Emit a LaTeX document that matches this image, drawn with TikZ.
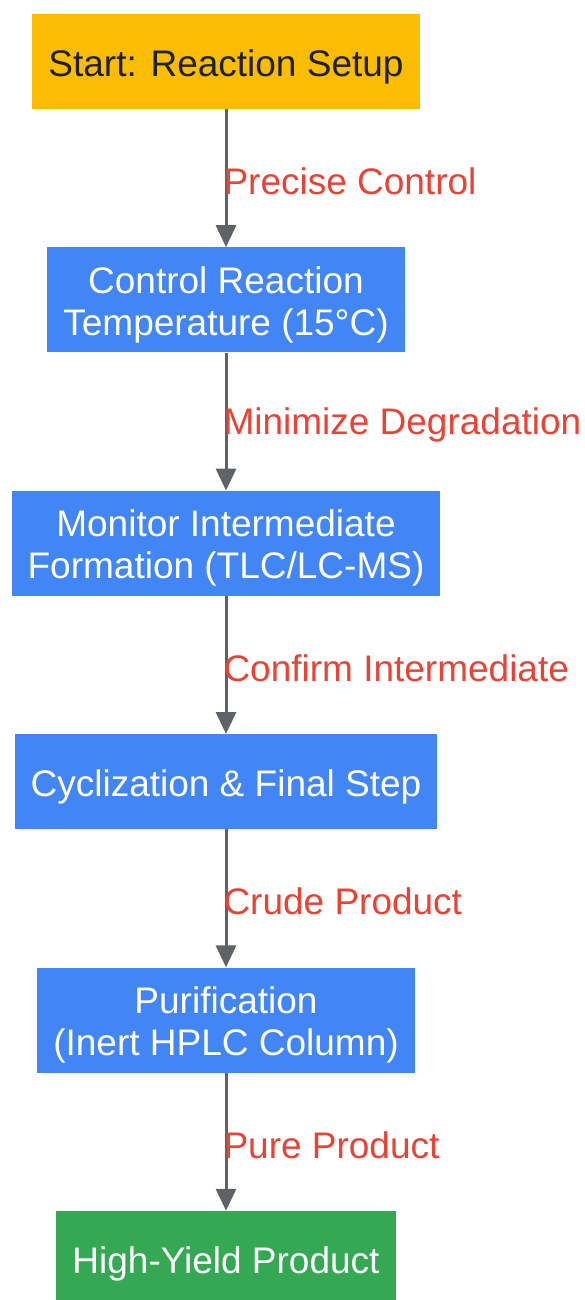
\documentclass[tikz,border=0pt]{standalone}
\usepackage{fontspec}
\setmainfont{Liberation Sans}
\usetikzlibrary{positioning,arrows.meta}

\definecolor{startcol}{HTML}{FBBC04}
\definecolor{stepcol}{HTML}{4285F4}
\definecolor{endcol}{HTML}{34A853}
\definecolor{arrowcol}{HTML}{5F6368}
\definecolor{labelcol}{HTML}{EA4335}
\definecolor{darktext}{HTML}{202124}

% extra room above the first line, so text sits a bit lower in the box
\newcommand{\liftline}{\rule{0pt}{1em}}

\begin{document}
\begin{tikzpicture}[
    box/.style={inner xsep=16pt, inner ysep=4pt, align=center, fill=stepcol, text=white,
                font=\fontsize{37}{42}\selectfont, minimum height=95pt},
    twoline/.style={minimum height=105pt},
    flow/.style={draw=arrowcol, line width=3pt, -{Triangle[length=22pt,width=20pt]}},
    lbl/.style={right, inner sep=0pt, xshift=-4pt, yshift=-3pt, text=labelcol,
                font=\fontsize{37}{42}\selectfont}
]
    % Page size
    \useasboundingbox (0,0) rectangle (585pt,-1300pt);

    % Steps
    \node[box, fill=startcol, text=darktext] (start) at (226pt,-61.5pt) {\liftline Start: Reaction Setup};
    \node[box, twoline, below=138pt of start] (temp) {\liftline Control Reaction\\Temperature (15°C)};
    \node[box, twoline, below=138pt of temp] (monitor) {\liftline Monitor Intermediate\\Formation (TLC/LC-MS)};
    \node[box, below=138pt of monitor] (cycl) {\liftline Cyclization \& Final Step};
    \node[box, twoline, below=138pt of cycl] (purif) {\liftline Purification\\(Inert HPLC Column)};
    \node[box, fill=endcol, below=138pt of purif] (product) {\liftline High-Yield Product};

    % Arrows with labels
    \draw[flow] (start) -- node[lbl] {Precise Control} (temp);
    \draw[flow] (temp) -- node[lbl] {Minimize Degradation} (monitor);
    \draw[flow] (monitor) -- node[lbl] {Confirm Intermediate} (cycl);
    \draw[flow] (cycl) -- node[lbl] {Crude Product} (purif);
    \draw[flow] (purif) -- node[lbl] {Pure Product} (product);
\end{tikzpicture}
\end{document}
